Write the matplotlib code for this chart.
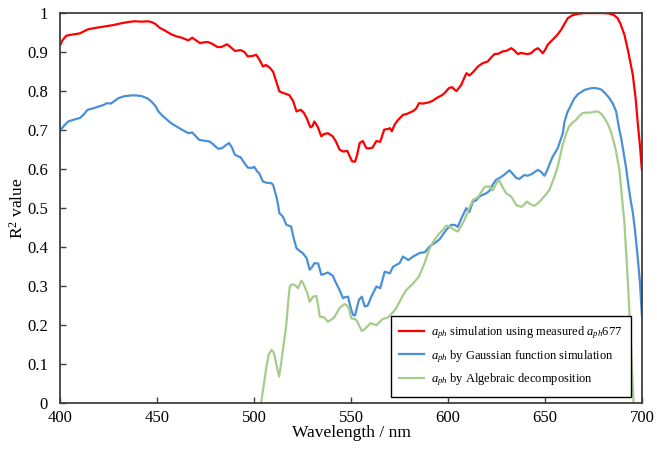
import matplotlib
matplotlib.use("Agg")
import matplotlib.pyplot as plt

plt.rcParams["font.family"] = ["Liberation Serif", "DejaVu Serif"]
plt.rcParams["mathtext.fontset"] = "custom"
plt.rcParams["mathtext.rm"] = "Liberation Serif"
plt.rcParams["mathtext.it"] = "Liberation Serif:italic"

# ----------------------------------------------------------------------------- data
wl_red = [400, 401, 403, 405, 407.5, 410, 414, 418, 423, 427, 431.5, 435, 438, 442, 445, 447, 449, 451,
          454, 457, 460, 462.5, 466, 468, 470, 472, 474, 476, 478, 481, 483, 486, 488, 490, 493, 495,
          496.6, 499, 501, 502.5, 504.5, 506, 508, 509.7, 511, 513, 515, 518, 520, 521.8, 524, 525.5,
          527, 529, 530, 531, 532.7, 534.6, 536, 538, 540.5, 542, 544, 546, 548, 549.5, 550.5, 552,
          553, 554.4, 556, 557.8, 559, 561, 563, 565, 567, 569, 570, 571, 572.4, 574, 576.7, 579, 582,
          583.5, 585, 587, 590, 592, 594, 597, 598.2, 600.5, 602, 604.3, 606.8, 608, 609.5, 611, 612.8,
          615.4, 618, 620.5, 622, 624, 626, 628.3, 630, 632.6, 634, 636, 637.5, 639.4, 641, 642.8,
          644.5, 646.3, 647.5, 648.8, 650, 651.4, 654.8, 656.5, 658.3, 660, 661.8, 664, 667, 670, 675,
          680, 683, 685.5, 687.5, 689, 691, 693, 695.3, 696.8, 697.8, 699, 700]
r2_red = [0.919, 0.93, 0.942, 0.944, 0.946, 0.948, 0.958, 0.962, 0.966, 0.969, 0.974, 0.977, 0.979, 0.978,
          0.979, 0.977, 0.972, 0.963, 0.955, 0.946, 0.94, 0.937, 0.93, 0.937, 0.93, 0.923, 0.925, 0.926,
          0.922, 0.913, 0.913, 0.92, 0.912, 0.903, 0.905, 0.9, 0.889, 0.89, 0.893, 0.882, 0.863, 0.867,
          0.86, 0.85, 0.83, 0.799, 0.795, 0.79, 0.775, 0.748, 0.752, 0.745, 0.731, 0.707, 0.71, 0.722,
          0.709, 0.684, 0.69, 0.692, 0.684, 0.672, 0.65, 0.645, 0.647, 0.63, 0.62, 0.619, 0.635, 0.667,
          0.672, 0.654, 0.653, 0.655, 0.672, 0.67, 0.701, 0.703, 0.705, 0.697, 0.714, 0.725, 0.739,
          0.742, 0.749, 0.755, 0.769, 0.768, 0.771, 0.775, 0.782, 0.79, 0.795, 0.808, 0.81, 0.80, 0.816,
          0.83, 0.846, 0.84, 0.848, 0.863, 0.872, 0.876, 0.885, 0.895, 0.896, 0.902, 0.903, 0.91, 0.905,
          0.895, 0.898, 0.896, 0.895, 0.897, 0.905, 0.91, 0.905, 0.897, 0.905, 0.919, 0.936, 0.945,
          0.957, 0.972, 0.987, 0.994, 0.998, 1.0, 1.0, 1.0, 0.999, 0.995, 0.987, 0.972, 0.944, 0.9,
          0.842, 0.78, 0.722, 0.66, 0.598]

wl_blue = [400, 402, 404, 407, 410, 412, 414, 417, 419.5, 422, 424, 426, 428, 430, 433, 436.7, 439, 442,
           445, 447, 449, 450.5, 453, 457, 460.7, 463, 466, 468, 469.5, 471.6, 474, 476.8, 478.5, 480,
           481.5, 483.5, 485, 487, 488.5, 490, 491.5, 493, 495, 496.6, 499, 500, 501.5, 502.5, 504.5,
           506.5, 508.8, 509.7, 511.4, 512.3, 513, 514.8, 516.6, 519, 520.5, 521.8, 523.5, 525, 527,
           528.6, 530, 531, 533, 534.6, 536.5, 538, 540.5, 542, 544, 545.8, 547, 548.4, 550, 551, 552,
           553, 554, 555.5, 557, 558.5, 560.4, 563, 565, 567.3, 570, 571.6, 575, 576.7, 579.5, 582,
           585.3, 588, 590.5, 593, 595.6, 599, 601.6, 603.5, 605, 607, 609.4, 611, 612.8, 614.5, 616.2,
           618, 619.7, 621.5, 623, 624.8, 626.5, 628.3, 630, 631.7, 633.5, 635.2, 636.9, 638, 639.4,
           641, 643, 644.5, 646.3, 648, 649.7, 651, 652.5, 654, 656.6, 659.2, 660, 661.5, 663.5, 665,
           667, 670.4, 672.5, 674.6, 677, 679, 681, 683.2, 685, 686.7, 688.4, 689.3, 691.8, 693, 694.3,
           695.3, 696.5, 697.8, 699, 700]
r2_blue = [0.70, 0.712, 0.722, 0.727, 0.731, 0.74, 0.752, 0.756, 0.76, 0.764, 0.769, 0.768, 0.775, 0.782,
           0.787, 0.789, 0.789, 0.787, 0.781, 0.773, 0.762, 0.748, 0.735, 0.718, 0.707, 0.7, 0.692,
           0.694, 0.686, 0.675, 0.673, 0.671, 0.665, 0.658, 0.652, 0.654, 0.66, 0.667, 0.655, 0.637,
           0.633, 0.63, 0.615, 0.604, 0.603, 0.606, 0.594, 0.59, 0.568, 0.565, 0.564, 0.56, 0.53, 0.508,
           0.487, 0.478, 0.457, 0.453, 0.42, 0.397, 0.39, 0.385, 0.372, 0.342, 0.35, 0.359, 0.358, 0.329,
           0.332, 0.335, 0.327, 0.31, 0.29, 0.269, 0.272, 0.273, 0.24, 0.226, 0.225, 0.245, 0.265, 0.273,
           0.248, 0.25, 0.273, 0.299, 0.295, 0.337, 0.333, 0.35, 0.359, 0.376, 0.367, 0.376, 0.385,
           0.387, 0.402, 0.41, 0.42, 0.444, 0.457, 0.457, 0.452, 0.475, 0.5, 0.49, 0.517, 0.52, 0.53,
           0.534, 0.538, 0.545, 0.56, 0.573, 0.577, 0.583, 0.59, 0.597, 0.587, 0.577, 0.575, 0.58, 0.585,
           0.583, 0.587, 0.592, 0.598, 0.593, 0.583, 0.595, 0.615, 0.632, 0.654, 0.692, 0.72, 0.745,
           0.765, 0.78, 0.792, 0.803, 0.806, 0.808, 0.807, 0.804, 0.795, 0.782, 0.768, 0.748, 0.70, 0.68,
           0.605, 0.56, 0.517, 0.49, 0.44, 0.376, 0.31, 0.225]

wl_green = [503.5, 505, 506.3, 507.5, 508.9, 510, 510.6, 511.8, 512.8, 513.8, 515, 516, 516.6, 517.5,
            518.3, 519.5, 520.9, 522.6, 524.3, 525, 526, 527.5, 528.6, 530.3, 532, 533, 533.8, 536, 538,
            540, 541.5, 543, 544, 546.6, 548, 549, 550, 552.6, 554.4, 555.5, 557, 560, 563, 566, 569,
            572, 573.3, 576, 578.4, 582, 585, 587.9, 590.5, 593, 595.6, 597.5, 599, 601, 603, 605,
            606.8, 608.5, 610.5, 612.8, 615.4, 617, 618.8, 621.3, 623, 624.5, 626.2, 628, 630, 632.5,
            635.2, 637.8, 639.5, 640.6, 642.5, 644.5, 646.5, 648, 650, 652.3, 654.5, 656.6, 659, 661,
            662.5, 664, 666, 667.5, 669.5, 671.5, 673.8, 675.5, 677.3, 679, 680.7, 682.5, 684, 685.5,
            686.7, 688.4, 689.3, 691, 692.7, 693.5, 694.7, 695.7]
r2_green = [0.0, 0.05, 0.094, 0.125, 0.137, 0.13, 0.12, 0.09, 0.068, 0.1, 0.145, 0.18, 0.205, 0.26, 0.299,
            0.305, 0.303, 0.295, 0.314, 0.31, 0.299, 0.28, 0.26, 0.273, 0.275, 0.25, 0.222, 0.22, 0.209,
            0.215, 0.222, 0.235, 0.244, 0.254, 0.25, 0.24, 0.218, 0.214, 0.196, 0.185, 0.19, 0.205, 0.2,
            0.215, 0.22, 0.235, 0.244, 0.27, 0.29, 0.307, 0.325, 0.359, 0.397, 0.419, 0.436, 0.445,
            0.455, 0.452, 0.445, 0.44, 0.455, 0.47, 0.495, 0.521, 0.528, 0.54, 0.554, 0.556, 0.545,
            0.56, 0.573, 0.555, 0.538, 0.53, 0.508, 0.503, 0.51, 0.517, 0.51, 0.506, 0.513, 0.521, 0.532,
            0.547, 0.575, 0.607, 0.66, 0.692, 0.71, 0.718, 0.726, 0.735, 0.744, 0.745, 0.745, 0.747,
            0.748, 0.742, 0.731, 0.715, 0.696, 0.67, 0.645, 0.598, 0.55, 0.461, 0.316, 0.239, 0.11, 0.0]

x_ticks = [400, 450, 500, 550, 600, 650, 700]
y_ticks = [0, 0.1, 0.2, 0.3, 0.4, 0.5, 0.6, 0.7, 0.8, 0.9, 1]
y_ticklabels = ["0", "0.1", "0.2", "0.3", "0.4", "0.5", "0.6", "0.7", "0.8", "0.9", "1"]

labels = [r"$a_{ph}$ simulation using measured $a_{ph}$677",
          r"$a_{ph}$ by Gaussian function simulation",
          r"$a_{ph}$ by Algebraic decomposition"]

# ----------------------------------------------------------------------------- figure
fig = plt.figure(figsize=(6.57, 4.51), dpi=100)
ax = fig.add_axes([0.092, 0.106, 0.885, 0.865])

ax.plot(wl_red, r2_red, color="#FF0000", lw=1.6, label=labels[0])
ax.plot(wl_blue, r2_blue, color="#4A90D6", lw=1.6, label=labels[1])
ax.plot(wl_green, r2_green, color="#A6CC8C", lw=1.6, label=labels[2])

ax.set_xlim(400, 700)
ax.set_ylim(0, 1)
ax.set_xticks(x_ticks)
ax.set_yticks(y_ticks)
ax.set_yticklabels(y_ticklabels)
ax.tick_params(direction="in", length=4, width=1, colors="#404040", labelcolor="black",
               labelsize=12)
ax.tick_params(axis="y", pad=9)
ax.tick_params(axis="x", pad=5)
for s in ax.spines.values():
    s.set_color("#404040")
    s.set_linewidth(1.3)

ax.set_xlabel("Wavelength / nm", fontsize=12.5, labelpad=-1)
ax.set_ylabel("R$^2$ value", fontsize=12.5, labelpad=0)

leg = ax.legend(loc="lower right", bbox_to_anchor=(0.981, 0.016), borderaxespad=0,
                fontsize=9, handlelength=2.0, handletextpad=0.5, labelspacing=0.55,
                fancybox=False, edgecolor="black", framealpha=1, borderpad=0.7)
leg.get_frame().set_linewidth(1.0)

fig.savefig("out.png", dpi=100)
